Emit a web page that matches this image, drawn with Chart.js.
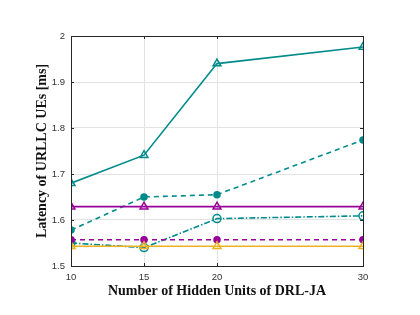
<!DOCTYPE html>
<html>
<head>
<meta charset="utf-8">
<script src="https://cdn.jsdelivr.net/npm/chart.js@4/dist/chart.umd.min.js"></script>
<style>
  html, body { margin: 0; padding: 0; background: #fff; }
  #wrap { width: 420px; height: 315px; position: relative; }
</style>
</head>
<body>
<div id="wrap"><canvas id="c"></canvas></div>
<script>
const hiddenUnits = [10, 15, 20, 30];
const yTicks = [1.5, 1.6, 1.7, 1.8, 1.9, 2];

const tealSolid = [1.680, 1.741, 1.940, 1.976];
const tealDashed = [1.578, 1.650, 1.655, 1.774];
const purpleSolid = [1.629, 1.629, 1.629, 1.629];
const tealDashDot = [1.550, 1.540, 1.603, 1.609];
const purpleDashed = [1.557, 1.557, 1.557, 1.557];
const yellowSolid = [1.543, 1.543, 1.543, 1.543];

const teal = "#008b8b";
const purple = "#990099";
const yellow = "#edb120";

const toXY = (vals) => vals.map((v, i) => ({ x: hiddenUnits[i], y: v }));

function series(vals, color, style, radius, filled, dash) {
  return {
    data: toXY(vals),
    borderColor: color,
    backgroundColor: filled ? color : "rgba(255,255,255,0)",
    pointStyle: style,
    pointRadius: radius,
    pointBorderWidth: 1.5,
    borderWidth: 1.6,
    borderDash: dash || [],
    pointBorderColor: color,
    pointBackgroundColor: filled ? color : "rgba(255,255,255,0)"
  };
}

const boxPlugin = {
  id: "box",
  afterDraw(chart) {
    const { ctx, chartArea: a } = chart;
    ctx.save();
    ctx.strokeStyle = "#262626";
    ctx.lineWidth = 1;
    ctx.strokeRect(a.left + 0.5, a.top + 0.5, a.right - a.left, a.bottom - a.top);
    // inward tick marks
    const xs = chart.scales.x, ys = chart.scales.y;
    hiddenUnits.forEach((v) => {
      const px = Math.round(xs.getPixelForValue(v)) + 0.5;
      ctx.beginPath();
      ctx.moveTo(px, a.bottom); ctx.lineTo(px, a.bottom - 3);
      ctx.moveTo(px, a.top); ctx.lineTo(px, a.top + 3);
      ctx.stroke();
    });
    yTicks.forEach((v) => {
      const py = Math.round(ys.getPixelForValue(v)) + 0.5;
      ctx.beginPath();
      ctx.moveTo(a.left, py); ctx.lineTo(a.left + 3, py);
      ctx.moveTo(a.right, py); ctx.lineTo(a.right - 3, py);
      ctx.stroke();
    });
    ctx.restore();
  }
};

new Chart(document.getElementById("c"), {
  type: "line",
  data: {
    datasets: [
      series(yellowSolid, yellow, "triangle", 4.5, false),
      series(purpleDashed, purple, "circle", 3, true, [5, 4]),
      series(tealDashDot, teal, "circle", 4, false, [6, 2, 1.5, 2]),
      series(purpleSolid, purple, "triangle", 4.5, false),
      series(tealDashed, teal, "circle", 3, true, [5, 4]),
      series(tealSolid, teal, "triangle", 4.5, false)
    ]
  },
  options: {
    responsive: true,
    maintainAspectRatio: false,
    animation: false,
    layout: { padding: { top: 36, right: 57, left: 0, bottom: 0 } },
    plugins: { legend: { display: false }, tooltip: { enabled: false } },
    elements: { line: { tension: 0 } },
    scales: {
      x: {
        type: "linear",
        min: 10,
        max: 30,
        afterBuildTicks: (s) => { s.ticks = hiddenUnits.map((v) => ({ value: v })); },
        afterFit: (s) => { s.height = 49; },
        grid: { color: "#e3e3e3", drawTicks: false },
        border: { color: "#262626" },
        ticks: { color: "#333", font: { family: "Liberation Sans", size: 9.5 }, padding: 6, maxRotation: 0 },
        title: {
          display: true,
          text: "Number of Hidden Units of DRL-JA",
          color: "#111",
          font: { family: "Liberation Serif", size: 14, weight: "bold" },
          padding: { top: 0, bottom: 15 }
        }
      },
      y: {
        min: 1.5,
        max: 2,
        afterBuildTicks: (s) => { s.ticks = yTicks.map((v) => ({ value: v })); },
        afterFit: (s) => { s.width = 71; },
        grid: { color: "#e3e3e3", drawTicks: false },
        border: { color: "#262626" },
        ticks: {
          color: "#333",
          font: { family: "Liberation Sans", size: 9.5 },
          padding: 6,
          callback: (v) => String(Number(v.toFixed(1)))
        },
        title: {
          display: true,
          text: "Latency of URLLC UEs [ms]",
          color: "#111",
          font: { family: "Liberation Serif", size: 14, weight: "bold" },
          padding: { top: 34, bottom: 0 }
        }
      }
    }
  },
  plugins: [boxPlugin]
});
</script>
</body>
</html>
